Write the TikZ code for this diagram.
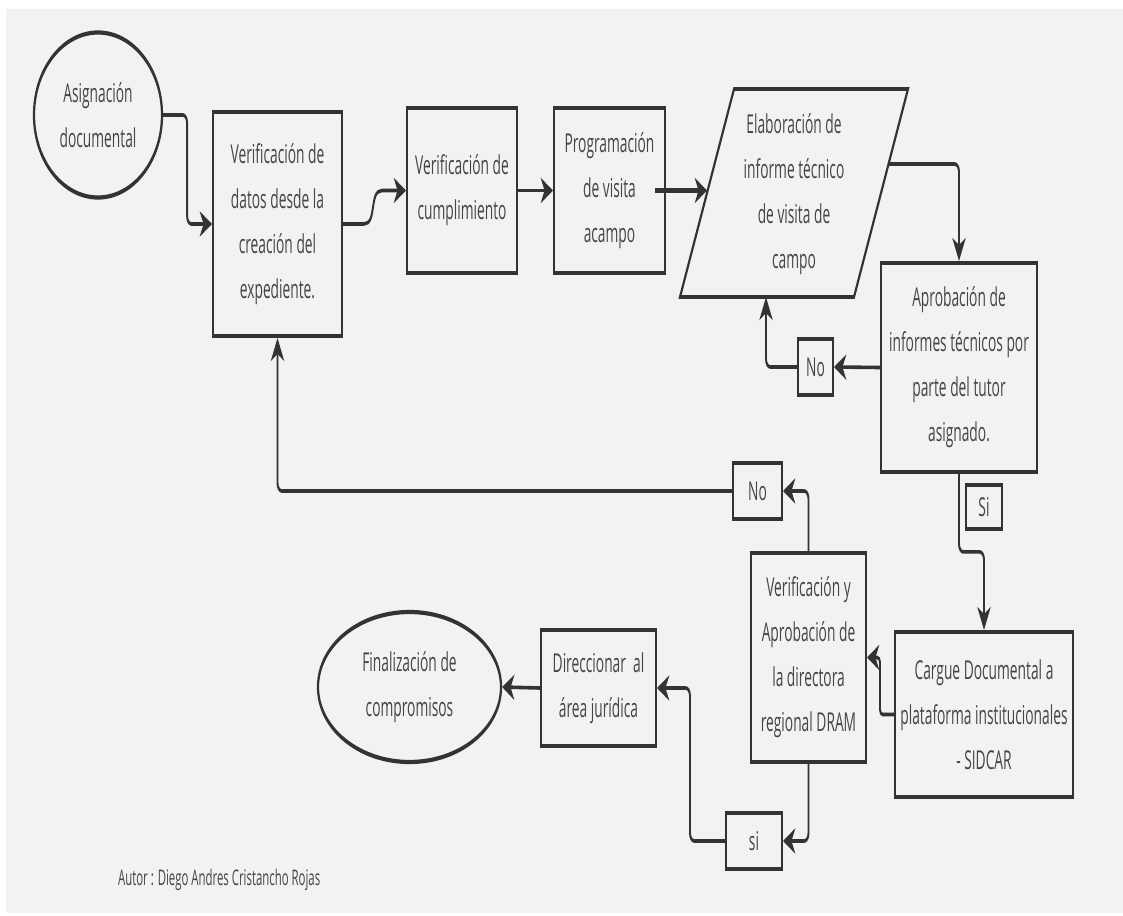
\documentclass[tikz,border=0pt]{standalone}
\usepackage{fontspec}
\setmainfont{Open Sans}
\usetikzlibrary{arrows.meta,shapes.geometric,calc}
\definecolor{bgc}{HTML}{F2F2F2}
\definecolor{lc}{HTML}{333333}
\definecolor{tc}{HTML}{454545}
\begin{document}
\begin{tikzpicture}[x=1pt,y=-1pt]
\fill[white] (0,0) rectangle (1123,915);
\fill[bgc] (6,9) rectangle (1123,913);
\useasboundingbox (0,0) rectangle (1123,915);

\begin{scope}[transform canvas={xscale=0.53}, x=1.886792pt, y=-1pt,
  txt/.style={font=\fontsize{26}{45}\selectfont, text=tc, align=center},
  sz/.style 2 args={minimum width=#1/0.53*1pt, minimum height=#2*1pt},
  bx/.style={txt, draw=lc, line width=3.8pt, inner sep=0pt, rectangle},
  el/.style={txt, draw=lc, line width=4.2pt, ellipse, inner sep=0pt},
  conn/.style={draw=lc, line width=3.6pt, rounded corners=8pt, -{Stealth[length=23pt,width=25pt,inset=7pt]}},
]
% nodes
\node[el, sz={128}{165}] (asig) at (98,115) {Asignación\\documental};
\node[bx, sz={129}{224}] (box1) at (277.5,224) {Verificación de\\datos desde la\\creación del\\expediente.};
\node[bx, sz={110}{165}] (box2) at (462,190.5) {Verificación de\\cumplimiento};
\node[bx, sz={111}{165}] (box3) at (609.5,190.5) {Programación\\de visita\\acampo};

% parallelogram
\draw[lc, line width=3.8pt, line join=miter] (734,89) -- (908,89) -- (854,297) -- (680,297) -- cycle;
\node[txt] (elab) at (794,194) {Elaboración de\\informe técnico\\de visita de\\campo};
\coordinate (elabL) at (707,190.5);
\coordinate (elabR) at (889,164);
\coordinate (elabB) at (766,297);

\node[bx, sz={156}{209}] (aprob) at (959,367.5) {Aprobación de\\informes técnicos por\\parte del tutor\\asignado.};
\node[bx, sz={35}{56}] (no1) at (815.5,367) {No};
\node[bx, sz={49}{56}] (no2) at (757.5,491) {No};
\node[bx, sz={36}{44}] (si1) at (984,507) {Si};
\node[bx, sz={178}{165}] (cargue) at (984,714.5) {Cargue Documental a\\plataforma institucionales\\- SIDCAR};
\node[bx, sz={115}{209}] (va) at (808.5,657.5) {Verificación y\\Aprobación de\\la directora\\regional DRAM};
\node[bx, sz={56}{56}] (si2) at (754,841) {si};
\node[bx, sz={115}{116}] (dir) at (598.5,688) {Direccionar\ \ al\\área jurídica};
\node[el, sz={183}{150}] (fin) at (409.5,687) {Finalización de\\compromisos};

\node[txt, font=\fontsize{21.5}{26}\selectfont, anchor=west, inner sep=0pt] (autor) at (118,880) {Autor : Diego Andres Cristancho Rojas};

% connectors
\draw[conn] (asig.east) -- ++(24,0) |- (box1.west);
\draw[conn, rounded corners=0pt] (box1.east) -- (364,224) .. controls (377,224) and (369,190.5) .. (382,190.5) -- (box2.west);
\draw[conn] (box2.east) -- (box3.west);
\draw[conn, line width=5pt] ([xshift=-20.75pt]box3.east) -- (elabL);
\draw[conn] (elabR) -| (aprob.north);
\draw[conn] (aprob.west) -- (no1.east);
\draw[conn] (no1.west) -| (elabB);
\draw[conn] (aprob.south) -- ++(0,78) -| (cargue.north);
\draw[conn, rounded corners=5pt] (cargue.west) -- ++(-14,0) |- (va.east);
\draw[conn] (va.north) |- (no2.east);
\draw[conn] (no2.west) -| (box1.south);
\draw[conn] (va.south) |- (si2.east);
\draw[conn] (si2.west) -- ++(-35,0) |- (dir.east);
\draw[conn] (dir.west) -- (fin.east);
\end{scope}
\end{tikzpicture}
\end{document}
